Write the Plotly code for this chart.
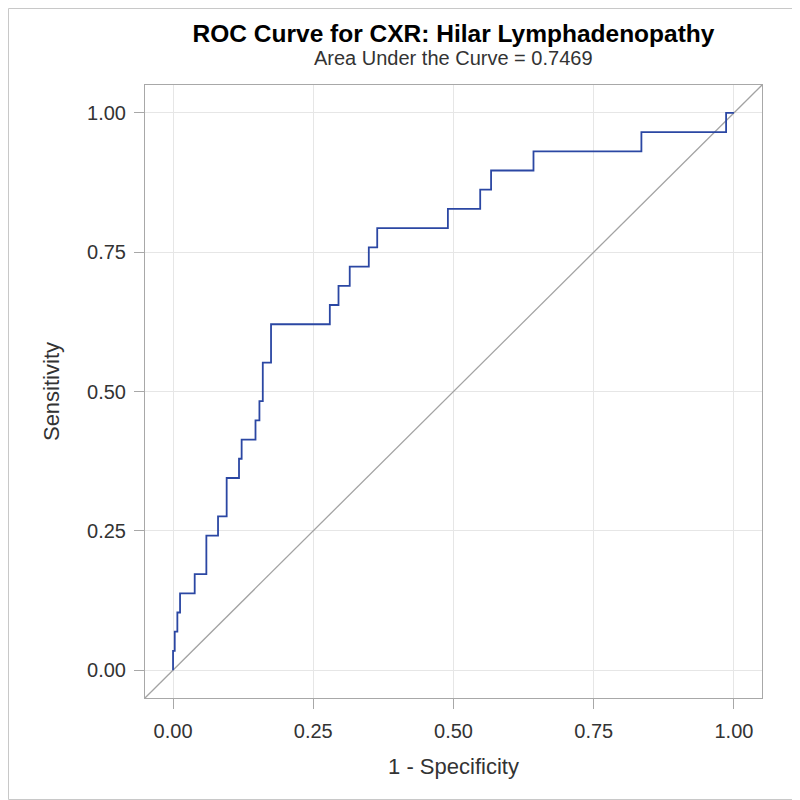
import plotly.graph_objects as go

# ROC step points (1 - specificity, sensitivity)
fpr = [0.0, 0.0, 0.003, 0.0077, 0.0125, 0.0386, 0.0594, 0.0802, 0.0956, 0.1176,
       0.1223, 0.147, 0.154, 0.160, 0.1747, 0.2795, 0.295, 0.315, 0.349, 0.364,
       0.490, 0.5476, 0.567, 0.6426, 0.835, 0.986, 1.0]
tpr = [0.0, 0.0345, 0.0690, 0.1034, 0.1379, 0.1724, 0.2414, 0.2759, 0.3448, 0.3793,
       0.4138, 0.4483, 0.4828, 0.5517, 0.6207, 0.6552, 0.6897, 0.7241, 0.7586, 0.7931,
       0.8276, 0.8621, 0.8966, 0.9310, 0.9655, 1.0, 1.0]
diag = [-0.05, 1.05]
ticks = [0.0, 0.25, 0.5, 0.75, 1.0]
tick_text = ["0.00", "0.25", "0.50", "0.75", "1.00"]
auc = 0.7469

fig = go.Figure()
fig.add_trace(go.Scatter(x=diag, y=diag, mode="lines",
                         line=dict(color="#A3A3A3", width=1.3), hoverinfo="skip"))
fig.add_trace(go.Scatter(x=fpr, y=tpr, mode="lines", line_shape="hv",
                         line=dict(color="#2B47A3", width=1.8)))

axis_common = dict(
    range=[-0.05, 1.05], tickvals=ticks, ticktext=tick_text,
    showgrid=True, gridcolor="#E6E6E6", gridwidth=1, zeroline=False,
    showline=True, linecolor="#A8A8A8", linewidth=1, mirror=True,
    ticks="outside", ticklen=10, tickcolor="#A8A8A8",
    tickfont=dict(size=20, color="#333333"),
)

fig.update_xaxes(title=dict(text="1 - Specificity", font=dict(size=22, color="#333333"), standoff=17),
                 ticklabelstandoff=5, **axis_common)
fig.update_yaxes(title=dict(text="Sensitivity", font=dict(size=22, color="#333333"), standoff=21),
                 ticklabelstandoff=4, **axis_common)

# page has an 8px body margin, so the figure is 792 wide and the plot area lands at 145..762
L, R, T, B = 137, 38, 77, 102
W = H = 792
pw, ph = W - L - R, H - T - B

fig.update_layout(
    width=W, height=H, showlegend=False,
    margin=dict(l=L, r=R, t=T, b=B),
    plot_bgcolor="white", paper_bgcolor="white",
    font=dict(family="Liberation Sans, Arial, sans-serif"),
    title=dict(text="<b>ROC Curve for CXR: Hilar Lymphadenopathy</b>",
               x=0.5, xref="paper", xanchor="center",
               y=1 - 25 / H, yref="container", yanchor="middle",
               font=dict(size=24.5, color="black")),
)
fig.add_annotation(text=f"Area Under the Curve = {auc:.4f}", xref="paper", yref="paper",
                   x=0.5, y=1 + 27 / ph, xanchor="center", yanchor="middle",
                   showarrow=False, font=dict(size=20, color="#333333"))
# outer border of the graph
fig.add_shape(type="rect", xref="paper", yref="paper",
              x0=-(L - 0.5) / pw, x1=1 + (R - 0.5) / pw,
              y0=-(B - 0.5) / ph, y1=1 + (T - 0.5) / ph,
              line=dict(color="#C8C8C8", width=1))

fig.write_html("out.html")
